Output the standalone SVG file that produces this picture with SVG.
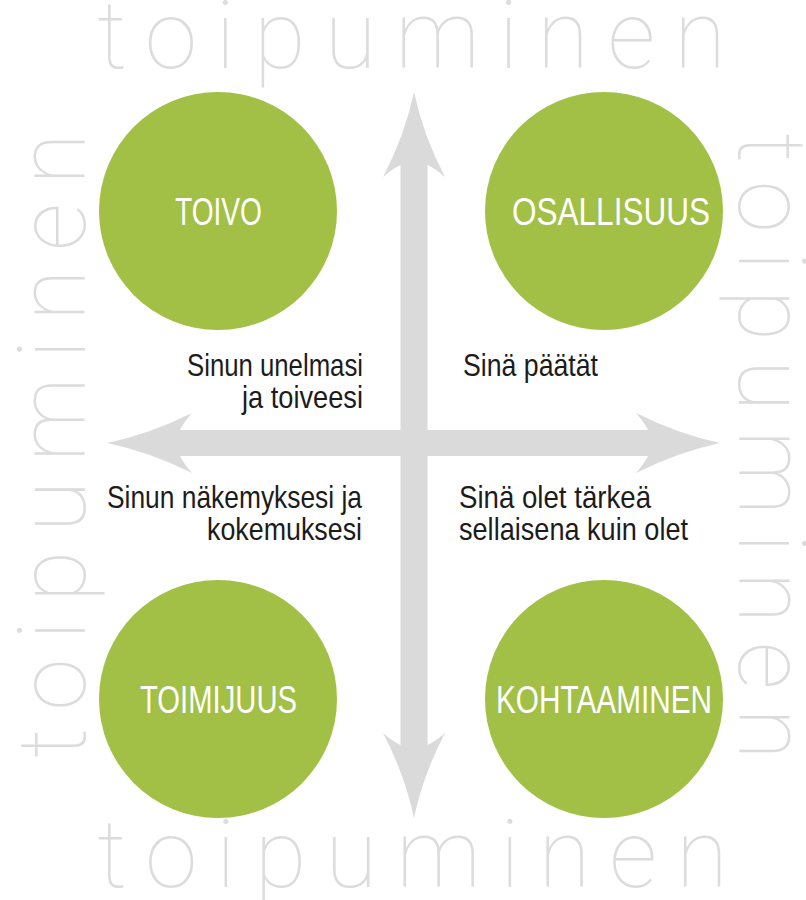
<svg xmlns="http://www.w3.org/2000/svg" width="806" height="900" viewBox="0 0 806 900">
<style>
.bg{fill:#ffffff}
.word{font-family:Roboto,"Open Sans","Liberation Sans",sans-serif;font-weight:100;font-size:95px;fill:#dcdcdc}
.disc{fill:#a1c045}
.lbl{font-family:"Liberation Sans Narrow","Liberation Sans",Arial,sans-serif;font-size:38px;fill:#ffffff;text-anchor:middle}
.cap{font-family:"Liberation Sans Narrow","Liberation Sans",Arial,sans-serif;font-size:32px;fill:#1c1c1c}
.arrow{fill:#dadada}
</style>
<rect class="bg" x="0" y="0" width="806" height="900"/>
<g id="frame-words">
<text class="word" x="97" y="68" textLength="629" lengthAdjust="spacing">toipuminen</text>
<text class="word" x="97" y="887" textLength="631" lengthAdjust="spacing">toipuminen</text>
<text class="word" transform="translate(85,758) rotate(-90)" x="0" y="0" textLength="625" lengthAdjust="spacing">toipuminen</text>
<text class="word" transform="translate(739,133) rotate(90)" x="0" y="0" textLength="627" lengthAdjust="spacing">toipuminen</text>
</g>
<g id="connectors">
<path class="arrow" d="M414,92 Q405,135 383,177 Q392,169 400.5,165 L400.5,745 Q392,741 383,733 Q405,775 414,818 Q423,775 445,733 Q436,741 427.5,745 L427.5,165 Q436,169 445,177 Q423,135 414,92 Z"/>
<path class="arrow" d="M107,443 Q150,434 192,413 Q184,422 180,430 L648,430 Q644,422 636,413 Q678,434 720,443 Q678,452 636,473 Q644,464 648,456 L180,456 Q184,464 192,473 Q150,452 107,443 Z"/>
</g>
<g id="toivo">
<circle class="disc" cx="218" cy="211" r="119"/>
<text class="lbl" x="218.5" y="225" textLength="87" lengthAdjust="spacingAndGlyphs">TOIVO</text>
</g>
<g id="osallisuus">
<circle class="disc" cx="604" cy="211" r="119"/>
<text class="lbl" x="611" y="225" textLength="198" lengthAdjust="spacingAndGlyphs">OSALLISUUS</text>
</g>
<g id="toimijuus">
<circle class="disc" cx="218" cy="699" r="119"/>
<text class="lbl" x="218.5" y="713" textLength="157" lengthAdjust="spacingAndGlyphs">TOIMIJUUS</text>
</g>
<g id="kohtaaminen">
<circle class="disc" cx="604" cy="699" r="119"/>
<text class="lbl" x="604" y="713" textLength="216" lengthAdjust="spacingAndGlyphs">KOHTAAMINEN</text>
</g>
<g id="captions">
<text class="cap" x="363" y="376" text-anchor="end" textLength="176" lengthAdjust="spacingAndGlyphs">Sinun unelmasi</text>
<text class="cap" x="363" y="408" text-anchor="end" textLength="121" lengthAdjust="spacingAndGlyphs">ja toiveesi</text>
<text class="cap" x="463" y="376" textLength="135" lengthAdjust="spacingAndGlyphs">Sinä päätät</text>
<text class="cap" x="362" y="508" text-anchor="end" textLength="255" lengthAdjust="spacingAndGlyphs">Sinun näkemyksesi ja</text>
<text class="cap" x="362" y="540" text-anchor="end" textLength="155" lengthAdjust="spacingAndGlyphs">kokemuksesi</text>
<text class="cap" x="459" y="508" textLength="192" lengthAdjust="spacingAndGlyphs">Sinä olet tärkeä</text>
<text class="cap" x="459" y="540" textLength="229" lengthAdjust="spacingAndGlyphs">sellaisena kuin olet</text>
</g>
</svg>
